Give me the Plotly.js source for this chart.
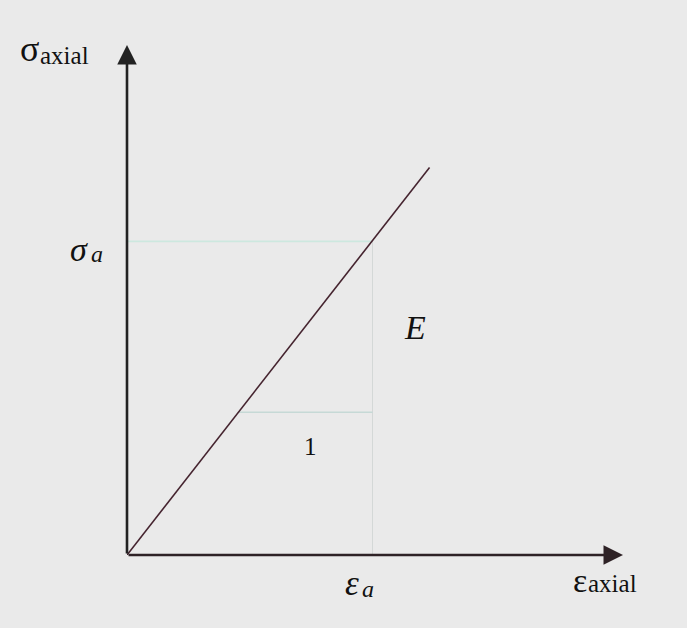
<!DOCTYPE html>
<html>
<head>
<meta charset="utf-8">
<script src="https://cdn.plot.ly/plotly-3.0.1.min.js"></script>
<style>
  html, body { margin: 0; padding: 0; background: #eaeaea; }
  #chart { width: 687px; height: 628px; }
</style>
</head>
<body>
<div id="chart"></div>
<script>
// Linear elastic stress–strain relation (arbitrary units)
const strain = [0, 6.1];          // ε along the elastic line
const stress = [0, 7.6];          // σ along the elastic line
const epsA = [4.95];              // ε_a
const sigmaA = [6.15];            // σ_a
const slopeBase = [2.8];          // σ level of the unit-step triangle
const axisMax = [10, 10];         // x / y axis extent

const slope = stress[1] / strain[1];
const baseStrain = slopeBase[0] / slope;

const traces = [
  // σ_a guide (horizontal)
  { x: [0, epsA[0]], y: [sigmaA[0], sigmaA[0]], mode: 'lines',
    line: { color: '#cde8df', width: 1.6 }, hoverinfo: 'skip' },
  // ε_a guide (vertical)
  { x: [epsA[0], epsA[0]], y: [0, sigmaA[0]], mode: 'lines',
    line: { color: '#d4d8d7', width: 1 }, hoverinfo: 'skip' },
  // slope triangle base
  { x: [baseStrain, epsA[0]], y: [slopeBase[0], slopeBase[0]], mode: 'lines',
    line: { color: '#c6d9d6', width: 1.4 }, hoverinfo: 'skip' },
  // elastic line
  { x: strain, y: stress, mode: 'lines',
    line: { color: '#45242f', width: 1.6 }, hoverinfo: 'skip' }
];

const serif = 'Liberation Serif, Times New Roman, serif';

// plot frame in page pixels (matches the margins below)
const frame = { left: 127, right: 623, top: 45, bottom: 555 };
const px = v => (v - frame.left) / (frame.right - frame.left);
const py = v => (frame.bottom - v) / (frame.bottom - frame.top);

function label(text, x, y, size, anchor) {
  return { xref: 'paper', yref: 'paper', x: px(x), y: py(y), showarrow: false,
           xanchor: anchor || 'center', yanchor: 'middle', borderpad: 0,
           text: text, font: { family: serif, size: size, color: '#111' } };
}

const annotations = [
  // axes with arrowheads
  { x: axisMax[0], y: 0, ax: 0, ay: 0, xref: 'x', yref: 'y', axref: 'x', ayref: 'y',
    text: '', showarrow: true, arrowhead: 2, arrowsize: 1.5, arrowwidth: 2.6, arrowcolor: '#2e2226' },
  { x: 0, y: axisMax[1], ax: 0, ay: 0, xref: 'x', yref: 'y', axref: 'x', ayref: 'y',
    text: '', showarrow: true, arrowhead: 2, arrowsize: 1.5, arrowwidth: 2.6, arrowcolor: '#222222' },
  // σ_axial
  label('σ', 29, 49, 36),
  label('axial', 39, 55, 25, 'left'),
  // ε_axial
  label('ε', 580, 580, 34),
  label('axial', 587, 583, 25, 'left'),
  // σ_a
  label('<i>σ</i>', 79, 249, 34),
  label('<i>a</i>', 90, 254, 24, 'left'),
  // ε_a
  label('<i>ε</i>', 352, 583, 35),
  label('<i>a</i>', 361, 589, 24, 'left'),
  // modulus and unit step
  label('<i>E</i>', 415, 327, 34),
  label('1', 310, 446, 25)
];

const hidden = { showgrid: false, zeroline: false, showticklabels: false,
                 showline: false, ticks: '', fixedrange: true };

const layout = {
  width: 687, height: 628,
  margin: { l: frame.left, r: 687 - frame.right, t: frame.top, b: 628 - frame.bottom },
  paper_bgcolor: '#eaeaea', plot_bgcolor: '#eaeaea',
  showlegend: false,
  xaxis: Object.assign({}, hidden, { range: [0, axisMax[0]] }),
  yaxis: Object.assign({}, hidden, { range: [0, axisMax[1]] }),
  annotations: annotations
};

Plotly.newPlot('chart', traces, layout, { displayModeBar: false, staticPlot: true });
</script>
</body>
</html>
